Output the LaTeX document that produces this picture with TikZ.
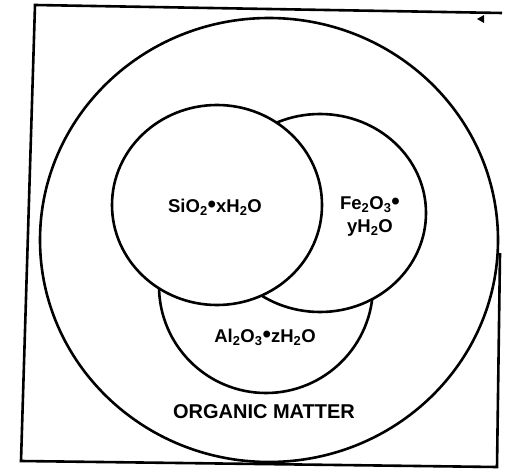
\documentclass[tikz,border=0pt]{standalone}
\usepackage{fontspec}
\setmainfont{Liberation Sans}
\begin{document}
\begin{tikzpicture}[x=1pt,y=-1pt,line width=2.6pt,
    lbl/.style={font=\fontsize{18.5}{23}\selectfont\bfseries,align=center}]
    \def\sb#1{\textsubscript{#1}}
    \def\dot{\scalebox{1.3}{\textbullet}}
    \useasboundingbox(0,0)rectangle(505,470);
    % frame
    \draw(502,13)--(35,5)--(21,461)--(497,467)--(500,253);
    \fill(477,19)--(484,15)--(484,23)--cycle;
    % organic matter
    \draw(269,240)ellipse[x radius=229,y radius=222];
    % oxides, back to front
    \draw[fill=white](266,286)circle[radius=107];
    \draw[fill=white](320,213)ellipse[x radius=106,y radius=99];
    \draw[fill=white](217,205)ellipse[x radius=105,y radius=100];
    \node[lbl](silica)at(215,207){SiO\sb{2}\dot xH\sb{2}O};
    \node[lbl](iron)at(370,216){Fe\sb{2}O\sb{3}\dot\\yH\sb{2}O};
    \node[lbl](alumina)at(265,337){Al\sb{2}O\sb{3}\dot zH\sb{2}O};
    \node[lbl,font=\fontsize{20}{24}\selectfont\bfseries](organic)at(264,412){ORGANIC MATTER};
\end{tikzpicture}
\end{document}
